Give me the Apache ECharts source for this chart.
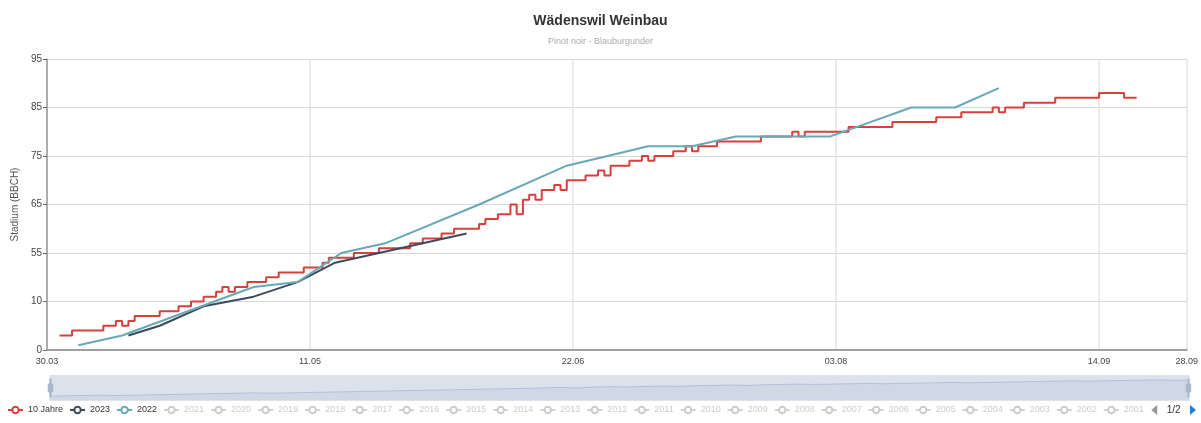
<!DOCTYPE html>
<html>
<head>
<meta charset="utf-8">
<script src="https://cdn.jsdelivr.net/npm/echarts/dist/echarts.min.js"></script>
<style>
html,body{margin:0;padding:0;background:#fff;}
#chart{width:1201px;height:423px;}
</style>
</head>
<body>
<div id="chart"></div>
<script>
// ---- data (x = days since 30.03, y = BBCH stage position on the axis) ----
const yTickLabels = ['0', '10', '55', '65', '75', '85', '95'];

const redDays  = [2,4,9,11,12,13,14,18,21,23,25,27,28,29,30,32,35,37,41,44,45,49,53,58,60,63,65,69,70,72,74,75,76,77,78,79,81,82,83,86,88,89,90,93,95,96,97,100,102,103,104,107,114,119,120,121,128,135,142,146,151,152,153,156,161,168,172,174];
const redStage = [3,4,5,6,5,6,7,8,9,10,11,12,13,12,13,14,15,16,17,18,19,20,21,22,23,24,25,26,27,28,30,28,31,32,31,33,34,33,35,36,37,36,38,39,40,39,40,41,42,41,42,43,44,45,44,45,46,47,48,49,50,49,50,51,52,53,52,52];

const y2023Days  = [13,18,25,33,40,46,53,60,67];
const y2023Stage = [3,5,9,11,14,18,20,22,24];

const y2022Days  = [5,12,33,40,47,54,69,83,96,103,110,125,138,145,152];
const y2022Stage = [1,3,13,14,20,22,30,38,42,42,44,44,50,50,54];

const otherYears = ['2021','2020','2019','2018','2017','2016','2015','2014','2013','2012','2011','2010','2009','2008','2007','2006','2005','2004','2003','2002','2001','2000','1999','1998','1997'];

// ---- helpers ----
function pad(n){return (n<10?'0':'')+n;}
function dayLabel(d){const t=new Date(Date.UTC(2023,2,30+Math.round(d)));return pad(t.getUTCDate())+'.'+pad(t.getUTCMonth()+1);}
function zip(xs, ys){return xs.map((x,i)=>[x, ys[i]]);}

const FONT = "'Liberation Sans',Arial,sans-serif";
const RED = '#d6403d', DARK = '#3b4a5c', TEAL = '#68a9b5';

const series = [
  {name:'10 Jahre', type:'line', step:'end', data: zip(redDays, redStage), color: RED,
   symbol:'emptyCircle', symbolSize:6, showSymbol:false, lineStyle:{width:2}},
  {name:'2023', type:'line', data: zip(y2023Days, y2023Stage), color: DARK,
   symbol:'emptyCircle', symbolSize:6, showSymbol:false, lineStyle:{width:2}},
  {name:'2022', type:'line', data: zip(y2022Days, y2022Stage), color: TEAL,
   symbol:'emptyCircle', symbolSize:6, showSymbol:false, lineStyle:{width:2}}
];
const selected = {};
otherYears.forEach(y => {
  series.push({name:y, type:'line', data:[], symbol:'emptyCircle', symbolSize:6, showSymbol:false, color:'#999'});
  selected[y] = false;
});

const chart = echarts.init(document.getElementById('chart'), null, {renderer:'canvas'});
chart.setOption({
  animation:false,
  textStyle:{fontFamily:FONT},
  title:{
    text:'Wädenswil Weinbau', subtext:'Pinot noir - Blauburgunder',
    left:'center', top:9, itemGap:9,
    textStyle:{fontSize:14, fontWeight:'bold', color:'#333', fontFamily:FONT},
    subtextStyle:{fontSize:9, color:'#aaa', fontFamily:FONT}
  },
  grid:{left:47, right:14, top:59, bottom:73, containLabel:false},
  xAxis:{
    type:'value', min:0, max:182, interval:42,
    axisLine:{lineStyle:{color:'#a0a0a0', width:2}},
    axisTick:{show:false},
    axisLabel:{formatter:dayLabel, color:'#444', fontSize:9, fontFamily:FONT, margin:7},
    splitLine:{show:true, lineStyle:{color:'#e4e4e4', width:1.5}}
  },
  yAxis:{
    type:'value', min:0, max:60, interval:10,
    name:'Stadium (BBCH)', nameLocation:'middle', nameGap:17,
    nameTextStyle:{fontSize:10, color:'#555', fontFamily:FONT},
    axisLine:{show:true, lineStyle:{color:'#999', width:1.5}},
    axisTick:{show:true, length:4, lineStyle:{color:'#666'}},
    axisLabel:{formatter:v => yTickLabels[Math.round(v/10)], color:'#444', fontSize:10, fontFamily:FONT, margin:5},
    splitLine:{show:true, lineStyle:{color:'#d8d8d8', width:1}}
  },
  dataZoom:[{
    type:'slider', xAxisIndex:0, start:0, end:100,
    left:47, right:14, bottom:22, height:26,
    backgroundColor:'rgba(47,69,84,0)', borderColor:'#dde3ea',
    fillerColor:'rgba(167,183,204,0.4)',
    dataBackground:{lineStyle:{color:'#b5c0cf', width:0.5, opacity:0.6}, areaStyle:{color:'#b5c0cf', opacity:0.4}},
    handleIcon:'M8.2,13.6V3.9H6.3v9.7H3.1v14.9h3.3v9.7h1.8v-9.7h3.3V13.6H8.2z M9.7,24.4H4.8v-1.4h4.9V24.4z M9.7,19.1H4.8v-1.4h4.9V19.1z',
    handleSize:'70%', handleStyle:{color:'#a7b7cc', borderColor:'#a7b7cc'},
    moveHandleSize:0, brushSelect:false, showDetail:false
  }],
  legend:{
    type:'scroll', orient:'horizontal', left:2, right:4, bottom:3,
    itemWidth:15, itemHeight:8, itemGap:6,
    textStyle:{fontSize:9, color:'#333', fontFamily:FONT},
    inactiveColor:'#ccc',
    pageIconColor:'#1a7fd6', pageIconInactiveColor:'#999', pageIconSize:10,
    pageTextStyle:{fontSize:10, color:'#333', fontFamily:FONT},
    selected:selected,
    data:series.map(s=>s.name)
  },
  series:series
});
</script>
</body>
</html>
